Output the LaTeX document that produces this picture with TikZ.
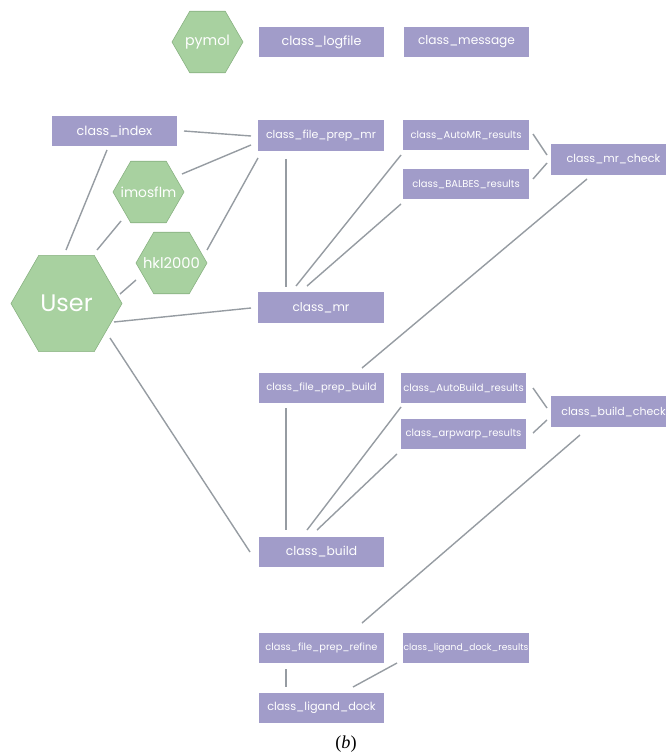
\documentclass[tikz,border=0pt]{standalone}
\usepackage{fontspec}
\setmainfont{Poppins}
\newfontfamily\capfont{Liberation Serif}
\usetikzlibrary{shapes.geometric,calc}
\definecolor{boxpurple}{RGB}{161,156,201}
\definecolor{hexgreen}{RGB}{168,209,160}
\definecolor{hexline}{RGB}{135,176,128}
\definecolor{linkgray}{RGB}{150,156,162}
\tikzset{
  fsize/.style={font=\fontsize{#1}{#1}\selectfont},
  cls/.style={fill=boxpurple, text=white, minimum width=3.125cm, minimum height=0.75cm, inner sep=0pt, fsize=9},
  smallcls/.style={cls, fsize=7.1},
  tool/.style={regular polygon, regular polygon sides=6, fill=hexgreen, draw=hexline, minimum size=1.775cm, inner sep=0pt},
  hextext/.style={text=white, fsize=#1},
  link/.style={draw=linkgray, line width=1pt}
}

\begin{document}
\begin{tikzpicture}[x=0.025cm,y=-0.025cm]
\useasboundingbox (0,0) rectangle (665,755);

% top row
\node[tool, label={[hextext=10.1]center:pymol}] (pymol) at (207.5,42) {};
\node[cls] (logfile) at (321.5,42) {class\_logfile};
\node[cls, fsize=8.65] (message) at (466.5,42) {class\_message};

% user side
\node[tool, minimum size=2.775cm, label={[hextext=17]center:User}] (user) at (66.5,303.5) {};
\node[tool, label={[hextext=9.8]center:imosflm}] (imosflm) at (148.5,192) {};
\node[tool, label={[hextext=10.5]center:hkl2000}] (hkl) at (171.5,263) {};
\node[cls] (index) at (114.5,131) {class\_index};

% mr part
\node[smallcls, fsize=7.85] (fpmr) at (321,135.5) {class\_file\_prep\_mr};
\node[smallcls] (automr) at (466,135) {class\_AutoMR\_results};
\node[smallcls] (balbes) at (466,184) {class\_BALBES\_results};
\node[cls, fsize=7.9] (mrcheck) at (613.5,159.5) {class\_mr\_check};
\node[cls, fsize=8.6] (mr) at (321,307.5) {class\_mr};

% build part
\node[smallcls] (fpbuild) at (321.5,388) {class\_file\_prep\_build};
\node[smallcls] (autobuild) at (463.5,388) {class\_AutoBuild\_results};
\node[smallcls] (arpwarp) at (463.5,434) {class\_arpwarp\_results};
\node[cls, fsize=7.8] (buildcheck) at (613.5,411.5) {class\_build\_check};
\node[cls, fsize=8.75] (build) at (321.5,552) {class\_build};

% refine part
\node[smallcls, fsize=7] (fprefine) at (321.5,648) {class\_file\_prep\_refine};
\node[smallcls, fsize=6.5] (ligres) at (466,648) {class\_ligand\_dock\_results};
\node[cls, fsize=8] (ligdock) at (321.5,708) {class\_ligand\_dock};

\node (cap) at (346,744) {\capfont\fontsize{13}{14}\selectfont(\textit{b})};

% links
\draw[link] ($(index)+(69.5,0)$) -- ($(fpmr)+(-70,0.5)$);
\draw[link] ($(imosflm)+(33.5,-18)$) -- ($(fpmr)+(-70,9.5)$);
\draw[link] ($(hkl)+(35.5,-13)$) -- ($(fpmr)+(-63,22.5)$);
\draw[link] ($(fpmr)+(-35,23.5)$) -- ($(mr)+(-35,-20.5)$);
\draw[link] ($(index)+(-7.5,19)$) -- ($(user)+(-0.5,-53.5)$);
\draw[link] ($(imosflm)+(-27.5,29)$) -- ($(user)+(30.5,-53.5)$);
\draw[link] ($(hkl)+(-35.5,17)$) -- ($(user)+(53.5,-9.5)$);
\draw[link] ($(user)+(47.5,18.5)$) -- ($(mr)+(-70,0.5)$);
\draw[link] ($(user)+(43.5,34.5)$) -- ($(build)+(-71.5,0)$);
\draw[link] ($(automr)+(-65,20)$) -- ($(mr)+(-25,-21.5)$);
\draw[link] ($(balbes)+(-65,20)$) -- ($(mr)+(-14,-21.5)$);
\draw[link] ($(automr)+(67,-1)$) -- ($(mrcheck)+(-66.5,-4.5)$);
\draw[link] ($(balbes)+(67,-5)$) -- ($(mrcheck)+(-66.5,3.5)$);
\draw[link] ($(mrcheck)+(-26.5,19.5)$) -- ($(fpbuild)+(40.5,-20)$);
\draw[link] ($(fpbuild)+(-35.5,20)$) -- ($(build)+(-35.5,-22)$);
\draw[link] ($(autobuild)+(-62.5,19)$) -- ($(build)+(-14.5,-22)$);
\draw[link] ($(arpwarp)+(-66.5,20)$) -- ($(build)+(-4.5,-22)$);
\draw[link] ($(autobuild)+(69.5,0)$) -- ($(buildcheck)+(-66.5,-3.5)$);
\draw[link] ($(arpwarp)+(69.5,-1)$) -- ($(buildcheck)+(-66.5,8.5)$);
\draw[link] ($(buildcheck)+(-33.5,23.5)$) -- ($(fprefine)+(40.5,-25)$);
\draw[link] ($(fprefine)+(-35.5,21)$) -- ($(ligdock)+(-35.5,-21)$);
\draw[link] ($(ligres)+(-69,15)$) -- ($(ligdock)+(31.5,-21)$);
\end{tikzpicture}
\end{document}
